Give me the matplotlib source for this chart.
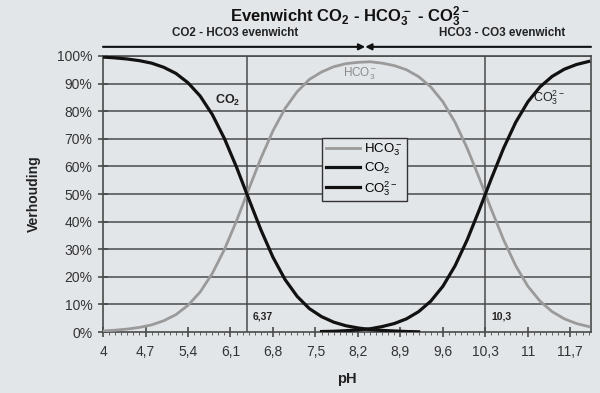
import matplotlib
matplotlib.use("Agg")
import matplotlib.pyplot as plt
import numpy as np

plt.rcParams['font.family'] = ['Liberation Sans', 'DejaVu Sans']
plt.rcParams['mathtext.fontset'] = 'custom'
plt.rcParams['mathtext.rm'] = 'Liberation Sans'
plt.rcParams['mathtext.bf'] = 'Liberation Sans:bold'
plt.rcParams['mathtext.default'] = 'regular'

# pH values (0.2 steps)
ph = [4.0, 4.2, 4.4, 4.6, 4.8, 5.0, 5.2, 5.4, 5.6, 5.8, 6.0, 6.2, 6.4, 6.6,
      6.8, 7.0, 7.2, 7.4, 7.6, 7.8, 8.0, 8.2, 8.4, 8.6, 8.8, 9.0, 9.2, 9.4,
      9.6, 9.8, 10.0, 10.2, 10.4, 10.6, 10.8, 11.0, 11.2, 11.4, 11.6, 11.8, 12.0]

hco3 = [0.4, 0.7, 1.1, 1.7, 2.6, 4.1, 6.3, 9.7, 14.5, 21.2, 29.9, 40.3, 51.7,
        62.9, 72.9, 81.0, 87.1, 91.5, 94.2, 96.1, 97.2, 97.7, 97.9, 97.4, 96.5,
        95.0, 92.5, 88.8, 83.4, 76.0, 66.6, 55.7, 44.3, 33.4, 24.0, 16.6, 11.2,
        7.4, 4.8, 3.1, 2.0]

# CO2 drawn from pH 4 up to 9.2
ph_co2 = ph[:27]
co2 = [99.6, 99.3, 98.9, 98.3, 97.4, 95.9, 93.7, 90.3, 85.5, 78.8, 70.1, 59.7,
       48.3, 37.1, 27.1, 19.0, 12.9, 8.5, 5.6, 3.6, 2.3, 1.5, 0.9, 0.6, 0.4,
       0.2, 0.1]

# CO3 drawn from pH 7.6 up to 12
ph_co3 = ph[18:]
co3 = [0.2, 0.3, 0.5, 0.8, 1.2, 2.0, 3.1, 4.8, 7.4, 11.2, 16.6, 24.0, 33.4,
       44.3, 55.7, 66.6, 76.0, 83.4, 88.8, 92.6, 95.2, 96.9, 98.0]

pk_values = [6.37, 10.3]
pk_labels = ['6,37', '10,3']

xticks = [4, 4.7, 5.4, 6.1, 6.8, 7.5, 8.2, 8.9, 9.6, 10.3, 11, 11.7]
xticklabels = ['4', '4,7', '5,4', '6,1', '6,8', '7,5', '8,2', '8,9', '9,6',
               '10,3', '11', '11,7']

bg = '#e3e6e9'
grid_c = '#4a4a4a'

fig = plt.figure(figsize=(6, 3.93), dpi=100, facecolor=bg)
ax = fig.add_axes([0.1717, 0.155, 0.8133, 0.7026])
ax.set_facecolor(bg)

for y in range(10, 101, 10):
    ax.axhline(y, color=grid_c, lw=1.1, zorder=1)
for p in pk_values:
    ax.axvline(p, color=grid_c, lw=1.1, zorder=1)

l1, = ax.plot(ph, hco3, color='#9a9a9a', lw=2, zorder=3)
l2, = ax.plot(ph_co2, co2, color='#111111', lw=2.3, zorder=4)
l3, = ax.plot(ph_co3, co3, color='#111111', lw=2.3, zorder=4)

ax.set_xlim(4, 12.04)
ax.set_ylim(0, 100)
ax.set_xticks(xticks)
ax.set_xticklabels(xticklabels, fontsize=10, color='#333333')
ax.set_xticks(np.arange(4, 12.01, 0.1), minor=True)
ax.set_yticks(range(0, 101, 10))
ax.set_yticklabels([f'{v}%' for v in range(0, 101, 10)], fontsize=10,
                   color='#333333')
ax.tick_params(axis='x', which='major', direction='inout', length=7,
               width=1.2, color=grid_c, pad=6)
ax.tick_params(axis='x', which='minor', direction='out', length=2,
               width=0.6, color=grid_c)
ax.tick_params(axis='y', which='major', direction='inout', length=7,
               width=1.2, color=grid_c, pad=4)
for s in ax.spines.values():
    s.set_color(grid_c)
    s.set_linewidth(1.2)

ax.set_xlabel('pH', fontsize=10.5, fontweight='bold', color='#222222',
              labelpad=9)
ax.set_ylabel('Verhouding', fontsize=10, fontweight='bold', color='#222222',
              labelpad=12)

# curve labels
ax.text(6.06, 84, r'CO$_2$', fontsize=9, fontweight='bold', color='#222222',
        ha='center', va='center', zorder=5)
ax.text(8.23, 93.5, r'HCO$_3^-$', fontsize=8.5, color='#8a8a8a',
        ha='center', va='center', zorder=5)
ax.text(11.35, 85, r'CO$_3^{2-}$', fontsize=9, color='#222222',
        ha='center', va='center', zorder=5)
for p, lab in zip(pk_values, pk_labels):
    ax.text(p + 0.1, 5.5, lab, fontsize=7.5, fontweight='bold',
            color='#222222', ha='left', va='center')

# arrows above the plot
ax.annotate('', xy=(8.32, 103.3), xytext=(4.0, 103.3),
            arrowprops=dict(arrowstyle='-|>', color='#111111', lw=1.5,
                            mutation_scale=9, shrinkA=0, shrinkB=0),
            annotation_clip=False)
ax.annotate('', xy=(8.32, 103.3), xytext=(12.04, 103.3),
            arrowprops=dict(arrowstyle='-|>', color='#111111', lw=1.5,
                            mutation_scale=9, shrinkA=0, shrinkB=0),
            annotation_clip=False)

leg = ax.legend([l1, l2, l3], [r'HCO$_3^-$', r'CO$_2$', r'CO$_3^{2-}$'],
                loc='upper left', bbox_to_anchor=(0.449, 0.703),
                fontsize=9.5, frameon=True, fancybox=False, framealpha=1,
                handlelength=2.6, handletextpad=0.3, borderpad=0.3,
                labelspacing=0.2, borderaxespad=0)
leg.get_frame().set_facecolor(bg)
leg.get_frame().set_edgecolor('#333333')
leg.get_frame().set_linewidth(1.0)
leg.set_zorder(6)

fig.text(0.583, 0.958,
         r'Evenwicht $\mathbf{CO_2}$ - $\mathbf{HCO_3^-}$ - $\mathbf{CO_3^{2-}}$',
         fontsize=12, fontweight='bold', ha='center', va='center',
         color='#111111')
fig.text(0.392, 0.916, 'CO2 - HCO3 evenwicht', fontsize=8.4,
         fontweight='bold', ha='center', va='center', color='#222222')
fig.text(0.837, 0.916, 'HCO3 - CO3 evenwicht', fontsize=8.4,
         fontweight='bold', ha='center', va='center', color='#222222')

fig.savefig('out.png', dpi=100, facecolor=bg)
